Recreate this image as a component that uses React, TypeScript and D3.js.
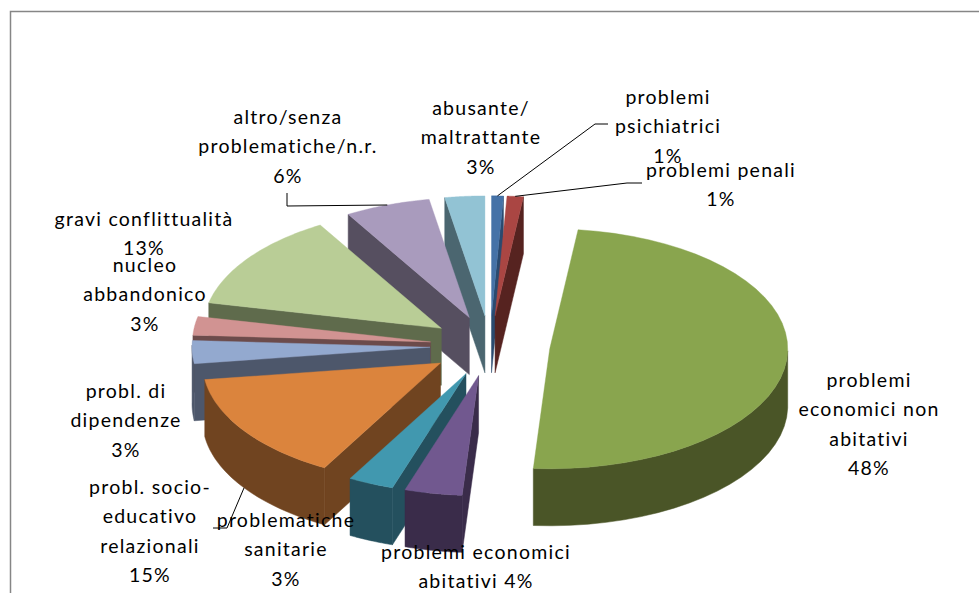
import * as d3 from "d3";

// Valori stimati dal grafico (le etichette riportano i valori arrotondati)
const categories = [
  "problemi psichiatrici",
  "problemi penali",
  "problemi economici non abitativi",
  "problemi economici abitativi",
  "problematiche sanitarie",
  "probl. socio-educativo relazionali",
  "probl. di dipendenze",
  "nucleo abbandonico",
  "gravi conflittualità",
  "altro/senza problematiche/n.r.",
  "abusante/maltrattante",
];
const values = [0.8, 1.1, 49.2, 3.9, 3.1, 14.7, 3.1, 2.5, 13.1, 5.8, 2.7];
const labelLines = [
  ["problemi", "psichiatrici", "1%"],
  ["problemi penali", "1%"],
  ["problemi", "economici non", "abitativi", "48%"],
  ["problemi economici", "abitativi 4%"],
  ["problematiche", "sanitarie", "3%"],
  ["probl. socio-", "educativo", "relazionali", "15%"],
  ["probl. di", "dipendenze", "3%"],
  ["nucleo", "abbandonico", "3%"],
  ["gravi conflittualità", "13%"],
  ["altro/senza", "problematiche/n.r.", "6%"],
  ["abusante/", "maltrattante", "3%"],
];

const topColors = ["#4572a7", "#aa4643", "#89a54e", "#71588f", "#4198af", "#db843d", "#93a9cf", "#d19392", "#b9cd96", "#a99bbd", "#92c3d4"];
const wallColors = ["#2a4a6f", "#562320", "#4a5527", "#3a2c4a", "#24505e", "#704420", "#4d576b", "#6c4b4b", "#5f6b4c", "#564f60", "#4b6670"];

// posizione delle etichette: centro x e baseline della prima riga
const labelPos = [
  { x: 668, y: 104 },
  { x: 721, y: 177 },
  { x: 869, y: 387 },
  { x: 476, y: 559 },
  { x: 286, y: 527 },
  { x: 150, y: 494 },
  { x: 126, y: 398 },
  { x: 145, y: 272 },
  { x: 144, y: 226 },
  { x: 288, y: 124 },
  { x: 481, y: 115 },
];
// linee guida: gomito e punto finale, per indice di fetta
const leaders = [
  { index: 0, points: [[595, 124], [608, 124]] },
  { index: 1, points: [[627, 183], [642, 183]] },
  { index: 9, points: [[287, 206], [287, 193]] },
  { index: 5, points: [[227, 528], [213, 528]] },
];

const width = 979;
const height = 593;
const cx = 490;
const cy = 346;
const rx = 238;
const tilt = 0.504;
const depth = 57;
const explode = 60;

const pie = d3.pie<number>().sort(null).startAngle(0).endAngle(2 * Math.PI);
const line = d3.line();

export default function App() {
  const arcs = pie(values).map((a, i) => {
    const mid = (a.startAngle + a.endAngle) / 2;
    const ax = cx + explode * Math.sin(mid);
    const ay = cy - explode * tilt * Math.cos(mid);
    const at = (t: number, dy = 0): [number, number] => [
      ax + rx * Math.sin(t),
      ay - rx * tilt * Math.cos(t) + dy,
    ];
    const steps = d3.range(0, 41).map((s) => a.startAngle + ((a.endAngle - a.startAngle) * s) / 40);
    return { i, mid, start: a.startAngle, end: a.endAngle, ax, ay, at, steps };
  });

  // si disegna dal fondo verso il davanti
  const ordered = [...arcs].sort((p, q) => d3.ascending(-Math.cos(p.mid), -Math.cos(q.mid)));

  return (
    <svg
      width={width}
      height={height}
      viewBox={`0 0 ${width} ${height}`}
      style={{ position: "absolute", left: 0, top: 0, display: "block", background: "#fff" }}
    >
      <path d={`M10.5,${height}V11.5H${width}`} fill="none" stroke="#868686" strokeWidth={1.5} />

      {ordered.map((s) => {
        const apex: [number, number] = [s.ax, s.ay];
        const apexLow: [number, number] = [s.ax, s.ay + depth];
        const wall = wallColors[s.i];
        const outer = s.steps.filter((t) => Math.cos(t) <= 0.02);
        const topFace = [apex, ...s.steps.map((t) => s.at(t))];
        return (
          <g key={categories[s.i]}>
            {/* parete di taglio: visibile solo se rivolta verso chi guarda */}
            {s.mid > Math.PI && (
              <path
                d={line([apex, s.at(s.start), s.at(s.start, depth), apexLow])! + "Z"}
                fill={wall}
                stroke={wall}
                strokeWidth={0.5}
              />
            )}
            {s.mid <= Math.PI && s.end < Math.PI && (
              <path
                d={line([apex, s.at(s.end), s.at(s.end, depth), apexLow])! + "Z"}
                fill={wall}
                stroke={wall}
                strokeWidth={0.5}
              />
            )}
            {outer.length > 1 && (
              <path
                d={line([...outer.map((t) => s.at(t)), ...[...outer].reverse().map((t) => s.at(t, depth))])! + "Z"}
                fill={wall}
                stroke={wall}
                strokeWidth={0.5}
              />
            )}
            <path d={line(topFace)! + "Z"} fill={topColors[s.i]} stroke={topColors[s.i]} strokeWidth={0.4} />
          </g>
        );
      })}

      {leaders.map((l) => {
        const s = arcs[l.index];
        const front = Math.cos(s.mid) < 0;
        const from = s.at(s.mid, front ? depth : 0);
        return (
          <path
            key={l.index}
            d={line([from, ...(l.points as [number, number][])])!}
            fill="none"
            stroke="#000"
            strokeWidth={1}
          />
        );
      })}

      <g fontFamily="Lato, sans-serif" fontSize={19.5} fill="#000" textAnchor="middle" letterSpacing={1.25}>
        {labelLines.map((lines, i) =>
          lines.map((text, j) => (
            <text key={`${i}-${j}`} x={labelPos[i].x} y={labelPos[i].y + j * 29.3}>
              {text}
            </text>
          )),
        )}
      </g>
    </svg>
  );
}
